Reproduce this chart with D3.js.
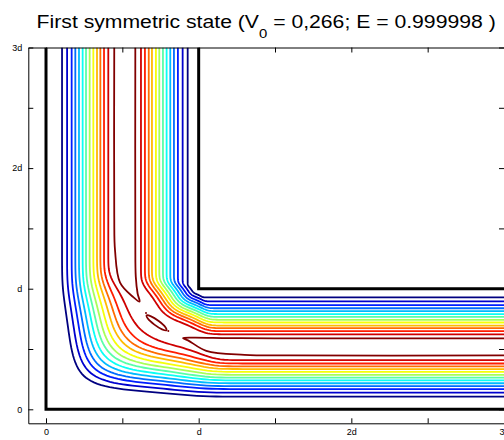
<html>
<head>
<script src="https://d3js.org/d3.v7.min.js"></script>
<style>
body { margin: 0; background: #fff; }
text { font-family: "Liberation Sans", Arial, sans-serif; }
</style>
</head>
<body>
<div id="chart"></div>
<script>
// canvas
var width = 504, height = 440;

// contour levels, lowest (dark blue) to highest (dark red)
var levelColors = ["#000080","#0000ce","#001dff","#006cff","#00baff","#0afff5","#58ffa7",
                   "#a7ff58","#f5ff0a","#ffba00","#ff6c00","#ff1d00","#ce0000","#800000"];

// where each level sits across an arm (units of d), outer wall side and inner wall side
var armOuter = [0.105,0.138,0.168,0.192,0.216,0.240,0.262,0.286,0.310,0.334,0.356,0.380,0.408];
var armInner = [0.928,0.895,0.864,0.838,0.814,0.790,0.766,0.742,0.720,0.694,0.673,0.648,0.622];

// where each level crosses the diagonal x = y in the corner
var diagOuter = [0.262,0.297,0.328,0.356,0.384,0.412,0.440,0.468,0.497,0.527,0.557,0.590,0.640];
var diagInner = [0.968,0.952,0.937,0.923,0.909,0.895,0.881,0.866,0.852,0.837,0.822,0.806,0.785];

// how far along the arms each level is still bent (units of d from the outer walls)
var reachOuter = [0.94,0.95,0.96,0.97,0.98,0.99,1.0,1.01,1.02,1.03,1.04,1.05,1.06];
var reachInner = [1.02,1.03,1.035,1.04,1.04,1.04,1.04,1.04,1.035,1.035,1.03,1.025,1.015];

// highest level: tongues along both arms and the island in the corner
var ridgeVertical = [[0.447,3],[0.447,1.6],[0.452,1.32],[0.485,1.05],[0.572,0.93],[0.613,0.893],
                     [0.600,0.96],[0.588,1.1],[0.585,1.4],[0.585,3]];
var ridgeHorizontal = [[3,0.447],[1.6,0.447],[1.3,0.452],[1.05,0.485],[0.93,0.572],[0.897,0.590],
                       [0.96,0.594],[1.2,0.59],[1.5,0.589],[3,0.589]];
var island = [[0.789,0.655],[0.780,0.684],[0.738,0.732],[0.688,0.771],[0.659,0.779],
              [0.668,0.750],[0.710,0.702],[0.760,0.663]];
var spots = [[0.655,0.798],[0.801,0.649]];

// guide walls
var walls = [[[0,3],[0,0],[3,0]], [[1,3],[1,1],[3,1]]];

// axes
var tickValues = [0,0.5,1,1.5,2,2.5,3];
var tickLabels = {0:"0", 1:"d", 2:"2d", 3:"3d"};

var svg = d3.select("#chart").append("svg")
  .attr("width", width)
  .attr("height", height);

var x = d3.scaleLinear().domain([-0.116, 3]).range([28.3, 504]);
var y = d3.scaleLinear().domain([-0.116, 3]).range([423.3, 47.5]);

svg.append("clipPath").attr("id", "plotclip")
  .append("rect")
  .attr("x", x(-0.116)).attr("y", y(3))
  .attr("width", x(3) - x(-0.116)).attr("height", y(-0.116) - y(3));

var plot = svg.append("g").attr("clip-path", "url(#plotclip)");

var line = d3.line().x(function(d) { return x(d[0]); }).y(function(d) { return y(d[1]); });

// one L shaped contour: straight at s in both arms, rounding the corner through (c,c)
// and settling back onto the arm line by about "reach"
function cornerPoints(s, c, reach, sharp) {
  var m = c - s, L = reach - s - m, half = [];
  for (var j = 0; j <= 40; j++) {
    var v = m + 2.2 * L * Math.pow(j / 40, 1.3);
    var u = (m * m / v) * Math.exp(-Math.pow((v - m) / L, sharp));
    half.push([u, v]);
  }
  var pts = [[s, 3]];
  for (var k = half.length - 1; k >= 0; k--) pts.push([s + half[k][0], s + half[k][1]]);
  for (var k = 1; k < half.length; k++) pts.push([s + half[k][1], s + half[k][0]]);
  pts.push([3, s]);
  return pts;
}

var lines = [];
armOuter.forEach(function(s, i) { lines.push({s: s, c: diagOuter[i], reach: reachOuter[i], sharp: 5, level: i}); });
armInner.forEach(function(s, i) { lines.push({s: s, c: diagInner[i], reach: reachInner[i], sharp: 4, level: i}); });

plot.selectAll("path.contour").data(lines).enter().append("path")
  .attr("class", "contour")
  .attr("d", function(d) { return line(cornerPoints(d.s, d.c, d.reach, d.sharp)); })
  .attr("fill", "none")
  .attr("stroke", function(d) { return levelColors[d.level]; })
  .attr("stroke-width", 1.8);

var topColor = levelColors[levelColors.length - 1];
var openLine = d3.line().x(function(d) { return x(d[0]); }).y(function(d) { return y(d[1]); })
  .curve(d3.curveCatmullRom.alpha(0.5));
var closedLine = d3.line().x(function(d) { return x(d[0]); }).y(function(d) { return y(d[1]); })
  .curve(d3.curveCatmullRomClosed.alpha(0.5));

plot.selectAll("path.ridge").data([ridgeVertical, ridgeHorizontal]).enter().append("path")
  .attr("class", "ridge")
  .attr("d", openLine)
  .attr("fill", "none")
  .attr("stroke", topColor)
  .attr("stroke-width", 1.8);

plot.append("path")
  .attr("d", closedLine(island))
  .attr("fill", "none")
  .attr("stroke", topColor)
  .attr("stroke-width", 1.8);

plot.selectAll("circle.spot").data(spots).enter().append("circle")
  .attr("cx", function(d) { return x(d[0]); })
  .attr("cy", function(d) { return y(d[1]); })
  .attr("r", 1)
  .attr("fill", topColor);

// walls of the guide
plot.selectAll("path.wall").data(walls).enter().append("path")
  .attr("class", "wall")
  .attr("d", line)
  .attr("fill", "none")
  .attr("stroke", "#000")
  .attr("stroke-width", 3)
  .attr("stroke-linejoin", "miter");

// frame with inward ticks
function fmt(d) { return tickLabels[d] || ""; }

var axisB = svg.append("g").attr("transform", "translate(0," + y(-0.116) + ")")
  .call(d3.axisBottom(x).tickValues(tickValues).tickSizeInner(-5).tickSizeOuter(0).tickPadding(5).tickFormat(fmt));
var axisT = svg.append("g").attr("transform", "translate(0," + y(3) + ")")
  .call(d3.axisTop(x).tickValues(tickValues).tickSizeInner(-5).tickSizeOuter(0).tickFormat(""));
var axisL = svg.append("g").attr("transform", "translate(" + x(-0.116) + ",0)")
  .call(d3.axisLeft(y).tickValues(tickValues).tickSizeInner(-5).tickSizeOuter(0).tickPadding(6).tickFormat(fmt));
var axisR = svg.append("g").attr("transform", "translate(" + x(3) + ",0)")
  .call(d3.axisRight(y).tickValues(tickValues).tickSizeInner(-5).tickSizeOuter(0).tickFormat(""));

[axisB, axisT, axisL, axisR].forEach(function(a) {
  a.selectAll("text").attr("font-size", 9).attr("fill", "#000")
    .attr("font-family", "Liberation Sans, Arial, sans-serif");
  a.selectAll("line").attr("stroke", "#000");
  a.select(".domain").attr("stroke", "#000");
});

// title (the original picture is stretched sideways)
var title = svg.append("text")
  .attr("transform", "translate(" + ((x(-0.116) + x(3)) / 2) + ",28) scale(1.146,1)")
  .attr("text-anchor", "middle")
  .attr("font-size", 18.5)
  .attr("fill", "#000");
title.append("tspan").text("First symmetric state (V");
title.append("tspan").attr("font-size", 13).attr("dy", 10).text("0");
title.append("tspan").attr("dy", -10).text(" = 0,266; E = 0.999998 )");
</script>
</body>
</html>
